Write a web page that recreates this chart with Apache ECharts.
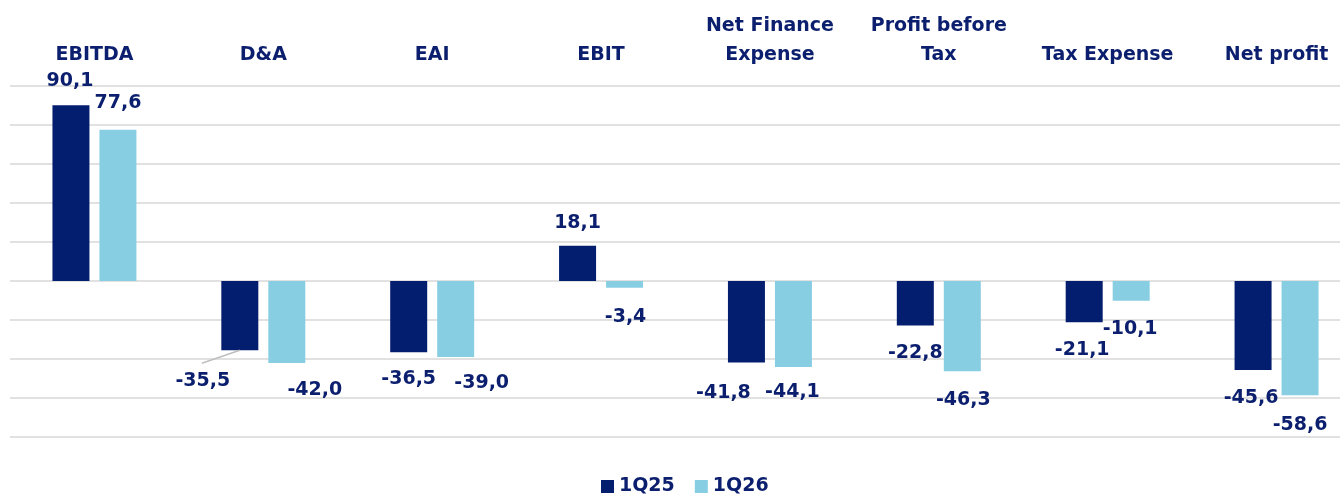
<!DOCTYPE html>
<html>
<head>
<meta charset="utf-8">
<script src="https://cdn.jsdelivr.net/npm/echarts@6/dist/echarts.min.js"></script>
<style>html,body{margin:0;padding:0;background:#fff}#c{width:1340px;height:496px}</style>
</head>
<body>
<div id="c"></div>
<script>
const categories = ['EBITDA', 'D&A', 'EAI', 'EBIT', 'Net Finance\nExpense', 'Profit before\nTax', 'Tax Expense', 'Net profit'];
const seriesNames = ['1Q25', '1Q26'];
const values1Q25 = [90.1, -35.5, -36.5, 18.1, -41.8, -22.8, -21.1, -45.6];
const values1Q26 = [77.6, -42.0, -39.0, -3.4, -44.1, -46.3, -10.1, -58.6];

// label nudges (style only), per series: [dx, dy]
const labelNudges = [
  [[-1,0],[-37,3],[0,-1],[0,2],[-23,3],[0,0],[-2,0],[-2,1]],
  [[0,-2],[28,0],[26,-1],[1,2],[-1,-2],[1,1],[-1,1],[0,2]]
];
// labels drawn with a leader line: [seriesIndex, dataIndex]
const leaderLabels = [[0, 1]];

const NAVY = '#041e6f';
const LIGHT = '#88cee3';
const TEXT = '#0b1f6e';
const FONT = 'DejaVu Sans';
const NEG_DIST = 18, POS_DIST = 15;

function buildData(vals) {
  return vals.map(v => {
    const neg = v < 0;
    return {
      value: v,
      label: { position: neg ? 'bottom' : 'top', distance: neg ? NEG_DIST : POS_DIST }
    };
  });
}

const labelBase = {
  show: true,
  color: TEXT,
  fontFamily: FONT,
  fontWeight: 'bold',
  fontSize: 19,
  formatter: p => p.value.toFixed(1).replace('.', ',')
};

function labelLayout(params) {
  const n = labelNudges[params.seriesIndex][params.dataIndex];
  return { dx: n[0], dy: n[1] };
}

const chart = echarts.init(document.getElementById('c'), null, { renderer: 'canvas' });
chart.setOption({
  animation: false,
  backgroundColor: '#ffffff',
  grid: { left: 10, width: 1351, top: 86, bottom: 59, containLabel: false, outerBoundsMode: 'none' },
  legend: {
    data: seriesNames,
    left: 601,
    top: 477,
    padding: 0,
    icon: 'rect',
    itemWidth: 13,
    itemHeight: 13,
    itemGap: 20,
    textStyle: { color: TEXT, fontFamily: FONT, fontWeight: 'bold', fontSize: 19 }
  },
  xAxis: {
    type: 'category',
    position: 'top',
    data: categories,
    axisLine: { show: false },
    axisTick: { show: false },
    axisLabel: {
      color: TEXT, fontFamily: FONT, fontWeight: 'bold', fontSize: 19,
      lineHeight: 29, margin: 16, interval: 0
    }
  },
  yAxis: {
    type: 'value',
    min: -80, max: 100, interval: 20,
    axisLabel: { show: false },
    axisLine: { show: false },
    axisTick: { show: false },
    splitLine: { lineStyle: { color: '#e1e1e1', width: 2 } }
  },
  series: [
    {
      name: seriesNames[0], type: 'bar', barWidth: 37, barGap: '27%',
      itemStyle: { color: NAVY },
      label: labelBase,
      labelLayout: labelLayout,
      data: buildData(values1Q25)
    },
    {
      name: seriesNames[1], type: 'bar', barWidth: 37, barGap: '27%',
      itemStyle: { color: LIGHT },
      label: labelBase,
      labelLayout: labelLayout,
      data: buildData(values1Q26)
    }
  ]
});

// leader lines: derived from the library's own bar layout
const lines = [];
leaderLabels.forEach(m => {
  const layout = chart.getModel().getSeriesByIndex(m[0]).getData().getItemLayout(m[1]);
  if (!layout) return;
  const cx = layout.x + layout.width / 2;
  const bottom = Math.max(layout.y, layout.y + layout.height);
  const n = labelNudges[m[0]][m[1]];
  lines.push({
    type: 'line', silent: true, z: 10,
    shape: { x1: cx + n[0] - 1, y1: bottom + 13, x2: cx, y2: bottom },
    style: { stroke: '#bfbfbf', lineWidth: 1.5 }
  });
});
chart.setOption({ graphic: lines });
</script>
</body>
</html>
